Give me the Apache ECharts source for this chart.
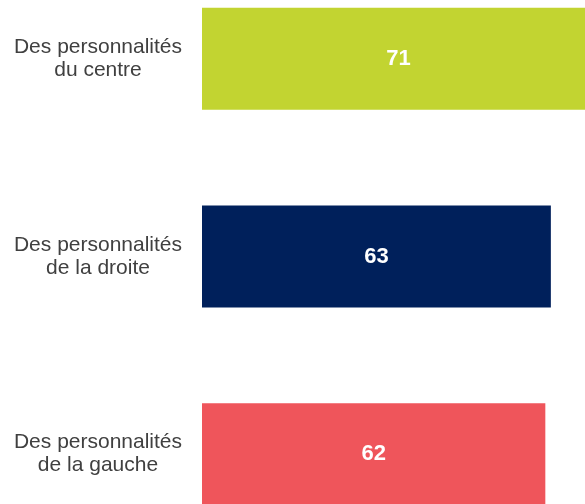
<!DOCTYPE html>
<html>
<head>
<meta charset="utf-8">
<script src="https://cdn.jsdelivr.net/npm/echarts@6/dist/echarts.min.js"></script>
<style>
html, body { margin: 0; padding: 0; background: #fff; overflow: hidden; width: 585px; height: 504px; }
/* the source picture is cropped: the chart runs past the right and bottom edges */
#main { position: absolute; left: 0; top: -40px; width: 645px; height: 593px; }
</style>
</head>
<body>
<div id="main"></div>
<script>
var categories = ['Des personnalités\ndu centre', 'Des personnalités\nde la droite', 'Des personnalités\nde la gauche']
var values = [71, 63, 62]
var colors = ['#c2d431', '#00205b', '#ef555b']

var chart = echarts.init(document.getElementById('main'))

var option = {
  animation: false,
  grid: {
    left: 202,
    right: 0,
    top: 0,
    bottom: 0
  },
  xAxis: {
    type: 'value',
    min: 0,
    max: 80,
    show: false
  },
  yAxis: {
    type: 'category',
    inverse: true,
    data: categories,
    axisLine: { show: false },
    axisTick: { show: false },
    axisLabel: {
      margin: 104,
      align: 'center',
      fontFamily: 'Liberation Sans, Arial, sans-serif',
      fontSize: 21,
      lineHeight: 23,
      padding: [4, 0, 0, 0],
      color: '#404040'
    }
  },
  series: [
    {
      type: 'bar',
      barWidth: 102,
      data: values.map(function (v, i) {
        return { value: v, itemStyle: { color: colors[i] } }
      }),
      label: {
        show: true,
        position: 'inside',
        color: '#fff',
        fontFamily: 'Liberation Sans, Arial, sans-serif',
        fontWeight: 'bold',
        fontSize: 22
      }
    }
  ]
}

chart.setOption(option)
</script>
</body>
</html>
